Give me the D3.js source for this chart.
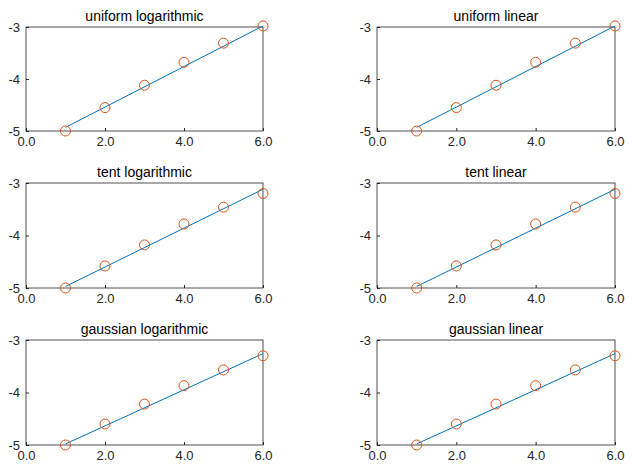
<!DOCTYPE html>
<html>
<head>
  <meta charset="utf-8">
  <script src="https://d3js.org/d3.v7.min.js"></script>
  <style>body{margin:0;background:#fff}</style>
</head>
<body>
  <div id="chart"></div>
  <script>
    var xs = [1, 2, 3, 4, 5, 6];
    var titles = ["uniform logarithmic", "uniform linear", "tent logarithmic", "tent linear", "gaussian logarithmic", "gaussian linear"];
    var points = [
      [-5.0, -4.55, -4.12, -3.68, -3.31, -2.98],
      [-5.0, -4.55, -4.12, -3.68, -3.31, -2.98],
      [-5.0, -4.58, -4.18, -3.78, -3.46, -3.2],
      [-5.0, -4.58, -4.18, -3.78, -3.46, -3.2],
      [-5.0, -4.6, -4.22, -3.87, -3.57, -3.3],
      [-5.0, -4.6, -4.22, -3.87, -3.57, -3.3]
    ];
    var lineEnds = [
      [-4.93, -2.98], [-4.93, -2.98],
      [-4.97, -3.12], [-4.97, -3.12],
      [-4.98, -3.26], [-4.98, -3.26]
    ];
    var xTicks = [0, 2, 4, 6], yTicks = [-5, -4, -3];

    var svg = d3.select("#chart").append("svg").attr("width", 632).attr("height", 474)
      .style("font-family", "Arial, 'Liberation Sans', sans-serif");

    var cols = [[26, 263], [377, 615]];
    var rows = [[27, 131], [183, 288], [340, 445]];

    titles.forEach(function(t, i) {
      var c = cols[i % 2], r = rows[Math.floor(i / 2)];
      var x = d3.scaleLinear().domain([0, 6]).range(c);
      var y = d3.scaleLinear().domain([-5, -3]).range([r[1], r[0]]);
      var g = svg.append("g");

      g.append("rect").attr("x", c[0]).attr("y", r[0]).attr("width", c[1] - c[0]).attr("height", r[1] - r[0])
        .attr("fill", "none").attr("stroke", "#262626").attr("stroke-width", 0.8);

      var ax = g.append("g").attr("transform", "translate(0," + r[1] + ")")
        .call(d3.axisBottom(x).tickValues(xTicks).tickSizeInner(-3).tickSizeOuter(0).tickPadding(6));
      var ay = g.append("g").attr("transform", "translate(" + c[0] + ",0)")
        .call(d3.axisLeft(y).tickValues(yTicks).tickSizeInner(-3).tickSizeOuter(0).tickPadding(6)
          .tickFormat(function(d) { return String(d).replace("\u2212", "-"); }));
      [ax, ay].forEach(function(a) {
        a.select(".domain").remove();
        a.selectAll("line").attr("stroke", "#262626");
        a.selectAll("text").attr("fill", "#262626").style("font-size", "13px");
      });

      var le = lineEnds[i];
      g.append("line").attr("x1", x(1)).attr("y1", y(le[0])).attr("x2", x(6)).attr("y2", y(le[1]))
        .attr("stroke", "#0072BD").attr("stroke-width", 1);

      g.selectAll("circle").data(points[i]).enter().append("circle")
        .attr("cx", function(d, j) { return x(xs[j]); })
        .attr("cy", function(d) { return y(d); })
        .attr("r", 5).attr("fill", "none").attr("stroke", "#D95319").attr("stroke-width", 1);

      g.append("text").attr("x", (c[0] + c[1]) / 2).attr("y", r[0] - 6)
        .attr("text-anchor", "middle").attr("fill", "#000").style("font-size", "14px").text(t);
    });
  </script>
</body>
</html>
